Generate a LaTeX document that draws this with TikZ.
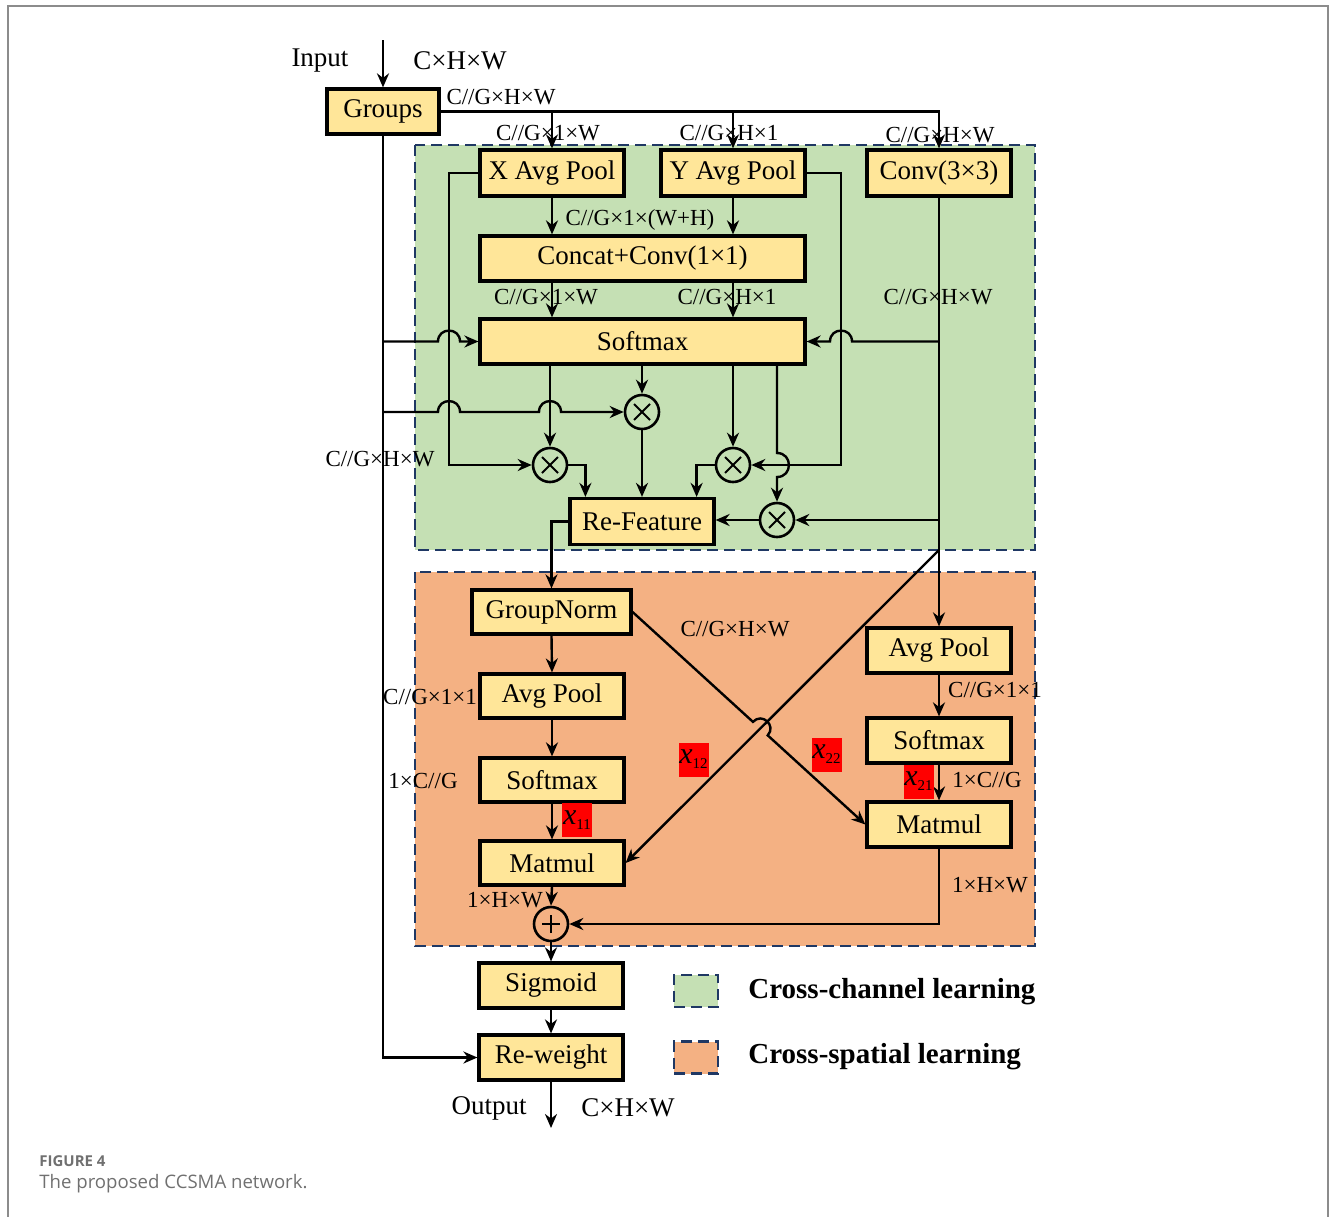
\documentclass[tikz,border=0pt]{standalone}
\usepackage{fontspec}
\setmainfont{Liberation Serif}
\newfontfamily\capfont{Open Sans}
\usetikzlibrary{arrows.meta,calc}
\definecolor{boxy}{HTML}{FFE699}
\definecolor{greenbg}{HTML}{C5E0B4}
\definecolor{orangebg}{HTML}{F4B183}
\definecolor{navy}{HTML}{1F3864}
\definecolor{capgray}{HTML}{707070}
\definecolor{framegray}{HTML}{8C8C8C}
\newcommand{\redx}[1]{{\fontsize{15}{15}\selectfont\textit{x}}\raisebox{-2.5pt}{\fontsize{7.5}{8}\selectfont #1}}
\begin{document}
\begin{tikzpicture}[x=0.5pt,y=-0.5pt,
  blk/.style={draw, line width=1.6pt, fill=boxy, inner sep=0pt, font=\fontsize{13.5}{15}\selectfont, minimum width=72pt, minimum height=23pt},
  dim/.style={inner sep=0pt, font=\fontsize{11.5}{13}\selectfont},
  io/.style={inner sep=0pt, font=\fontsize{13.5}{15}\selectfont},
  conn/.style={line width=1.2pt, -{Stealth[length=7pt,width=6pt]}},
  opc/.style={circle, draw, line width=1.3pt, minimum size=17pt, inner sep=0pt},
  region/.style={draw=navy, line width=1.4pt, dash pattern=on 5.5pt off 3pt},
  redlbl/.style={fill=red, inner sep=0pt, minimum width=15pt, minimum height=17pt},
  hop/.style={bend left=90, looseness=1.7},
  hopr/.style={bend right=90, looseness=1.7},
]
\useasboundingbox (0,0) rectangle (1332,1216);
% frame
\draw[framegray, line width=1.1pt] (8,1220) -- (8,6) -- (1328,6) -- (1328,1220);
% regions
\draw[region, fill=greenbg] (415,145) rectangle (1035,550);
\draw[region, fill=orangebg] (415,572) rectangle (1035,946);

% nodes
\node[blk, minimum width=56pt, minimum height=22.5pt] (gr) at (383,111.5) {Groups};
\node[blk] (xap) at (552,173) {X Avg Pool};
\node[blk] (yap) at (733,173) {Y Avg Pool};
\node[blk] (conv) at (939,173) {Conv(3×3)};
\node[blk, minimum width=162.5pt, minimum height=22.5pt] (cc) at (642.5,258.5) {Concat+Conv(1×1)};
\node[blk, minimum width=162.5pt, minimum height=22.5pt] (sm) at (642.5,341.5) {Softmax};
\node[opc] (m1) at (550,465) {};
\node[opc] (m2) at (642,412) {};
\node[opc] (m3) at (733,465) {};
\node[opc] (m4) at (777,520) {};
\node[blk] (rf) at (642,521.5) {Re-Feature};
\node[blk, minimum width=79.5pt, minimum height=22pt] (gn) at (551.5,612) {GroupNorm};
\node[blk, minimum height=22pt] (apl) at (552,696) {Avg Pool};
\node[blk, minimum height=22pt] (sml) at (552,780) {Softmax};
\node[blk, minimum height=22pt] (mml) at (552,863) {Matmul};
\node[opc] (add) at (551,924) {};
\node[blk, minimum height=22.5pt] (apr) at (939,650.5) {Avg Pool};
\node[blk, minimum height=22.5pt] (smr) at (939,740.5) {Softmax};
\node[blk, minimum height=22.5pt] (mmr) at (939,824.5) {Matmul};
\node[blk, minimum height=22.5pt] (sig) at (551,985.5) {Sigmoid};
\node[blk, minimum height=22.5pt] (rw) at (551,1057.5) {Re-weight};

% operator symbols
\foreach \n in {m1,m2,m3,m4} {
  \draw[line width=0.9pt] ([shift={(-4pt,-4pt)}]\n.center) -- ([shift={(4pt,4pt)}]\n.center);
  \draw[line width=0.9pt] ([shift={(-4pt,4pt)}]\n.center) -- ([shift={(4pt,-4pt)}]\n.center);
}
\draw[line width=0.9pt] ([shift={(-4.5pt,0pt)}]add.center) -- ([shift={(4.5pt,0pt)}]add.center);
\draw[line width=0.9pt] ([shift={(0pt,-4.5pt)}]add.center) -- ([shift={(0pt,4.5pt)}]add.center);

% helper coordinates
\coordinate (in) at (383,40);
\coordinate (out) at (551,1128);
\coordinate (xl) at (449,173);
\coordinate (yr) at (841,173);
\coordinate (dg) at (939,550);

% connectors top
\draw[conn] (in) -- (gr.north);
\draw[conn] (gr.east) -| (conv.north);
\draw[conn] (gr.east -| xap.north) -- (xap.north);
\draw[conn] (gr.east -| yap.north) -- (yap.north);
\draw[conn] (xap.south) -- (xap.south |- cc.north);
\draw[conn] (yap.south) -- (yap.south |- cc.north);
\draw[conn] (cc.south -| xap.south) -- (sm.north -| xap.south);
\draw[conn] (cc.south -| yap.south) -- (sm.north -| yap.south);

% groups trunk
\draw[conn] (gr.south) |- (rw.west);
\draw[conn] (gr.south |- sm.west) -- ($(xl |- sm.west)+(-11,0)$) to[hop] ($(xl |- sm.west)+(11,0)$) -- (sm.west);
\draw[conn] (gr.south |- m2.west) -- ($(xl |- m2.west)+(-11,0)$) to[hop] ($(xl |- m2.west)+(11,0)$)
   -- ($(m1.north |- m2.west)+(-11,0)$) to[hop] ($(m1.north |- m2.west)+(11,0)$) -- (m2.west);

% side lines from pools
\draw[conn] (xap.west) -- (xl) |- (m1.west);
\draw[conn] (yap.east) -- (yr) |- (m3.east);

% softmax outputs
\draw[conn] (m1.north |- sm.south) -- (m1.north);
\draw[conn] (m2.north |- sm.south) -- (m2.north);
\draw[conn] (m3.north |- sm.south) -- (m3.north);
\draw[conn] (m4.north |- sm.south) -- ($(m4.north |- m3.east)+(0,-12)$) to[hop] ($(m4.north |- m3.east)+(0,12)$) -- (m4.north);

% conv trunk
\draw[conn] (conv.south) -- (apr.north);
\draw[conn] (conv.south |- sm.east) -- ($(yr |- sm.east)+(11,0)$) to[hopr] ($(yr |- sm.east)+(-11,0)$) -- (sm.east);
\draw[conn] (conv.south |- m4.east) -- (m4.east);
\draw[conn] (dg) -- (mml.east);

% into re-feature
\draw[conn] (m1.east) -| ($(rf.north west)+(17,0)$);
\draw[conn] (m2.south) -- (m2.south |- rf.north);
\draw[conn] (m3.west) -| ($(rf.north east)+(-19,0)$);
\draw[conn] (m4.west) -- (m4.west -| rf.east);
\draw[conn] (rf.west) -| (gn.north);

% cross-spatial
\draw[conn] (gn.south) -- (apl.north);
\draw[conn] (apl.south) -- (sml.north);
\draw[conn] (sml.south) -- (mml.north);
\draw[conn] (mml.south) -- (add.north);
\coordinate (X) at (intersection of gn.east--mmr.west and dg--mml.east);
\draw[conn] (gn.east) -- ($(X)!5pt!(gn.east)$) to[hop] ($(X)!5pt!(mmr.west)$) -- (mmr.west);
\draw[conn] (apr.south) -- (smr.north);
\draw[conn] (smr.south) -- (mmr.north);
\draw[conn] (mmr.south) |- (add.east);
\draw[conn] (add.south) -- (sig.north);
\draw[conn] (sig.south) -- (rw.north);
\draw[conn] (rw.south) -- (out);

% dimension labels
\node[dim] at (501,97) {C//G×H×W};
\node[dim] at (548,133) {C//G×1×W};
\node[dim] at (729,133) {C//G×H×1};
\node[dim] at (940,135) {C//G×H×W};
\node[dim] at (640,220) {C//G×1×(W+H)};
\node[dim] at (546,297) {C//G×1×W};
\node[dim] at (727,297) {C//G×H×1};
\node[dim] at (938,297) {C//G×H×W};
\node[dim] at (380,459) {C//G×H×W};
\node[dim] at (735,629) {C//G×H×W};
\node[dim] at (430,697) {C//G×1×1};
\node[dim] at (423,781) {1×C//G};
\node[dim] at (505,900) {1×H×W};
\node[dim] at (995,690) {C//G×1×1};
\node[dim] at (987,780) {1×C//G};
\node[dim] at (990,885) {1×H×W};
\node[io] at (320,61) {Input};
\node[io] at (460,61) {C×H×W};
\node[io] at (489,1108) {Output};
\node[io] at (628,1108) {C×H×W};

% red labels
\node[redlbl] at (577,820) {\redx{11}};
\node[redlbl] at (693.5,759.5) {\redx{12}};
\node[redlbl] at (826.5,754.5) {\redx{22}};
\node[redlbl] at (918.5,781.5) {\redx{21}};

% legend
\node[region, fill=greenbg, minimum width=22pt, minimum height=16pt, inner sep=0pt] (lg1) at (696,991) {};
\node[region, fill=orangebg, minimum width=22pt, minimum height=16pt, inner sep=0pt] (lg2) at (696,1057.5) {};
\node[anchor=west, inner sep=0pt, font=\bfseries\fontsize{14.5}{16}\selectfont] (lt1) at (748,992) {Cross-channel learning};
\node[anchor=west, inner sep=0pt, font=\bfseries\fontsize{14.5}{16}\selectfont] (lt2) at (748,1057) {Cross-spatial learning};

% caption
\node[anchor=west, inner sep=0pt, text=capgray, font=\capfont\bfseries\fontsize{7.5}{9}\selectfont] (c1) at (39,1161) {FIGURE 4};
\node[anchor=west, inner sep=0pt, text=capgray, font=\capfont\fontsize{9.3}{11}\selectfont] (c2) at (39,1184) {The proposed CCSMA network.};
\end{tikzpicture}
\end{document}
